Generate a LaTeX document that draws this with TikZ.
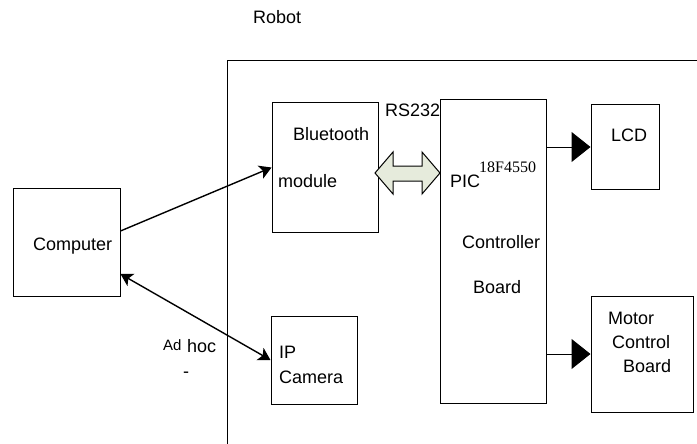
\documentclass[tikz,border=0pt]{standalone}
\usepackage{fontspec}
\setmainfont{Liberation Sans}
\newfontfamily\chipfont{Liberation Serif}
\usetikzlibrary{positioning, arrows.meta}

\definecolor{busfill}{RGB}{230,235,220}

\begin{document}
\begin{tikzpicture}[x=1pt, y=-1pt,
    blk/.style={draw, line width=1pt, inner sep=0pt},
    lbl/.style={anchor=base west, inner sep=0pt, font=\fontsize{18}{20}\selectfont},
    link/.style={line width=1.4pt, -{Stealth[length=12pt, width=14pt, inset=3pt]}},
    twolink/.style={line width=1.4pt, {Stealth[length=12pt, width=14pt, inset=3pt]}-{Stealth[length=12pt, width=14pt, inset=3pt]}},
    feed/.style={line width=1pt, -{Triangle[length=19pt, width=30pt]}}]
        \useasboundingbox (0,0) rectangle (697,444);
        \draw (253,24) node[lbl] (robot) {Robot};
        \draw[line width=1pt] (697,61) -- (227,61) -- (227,444);
        % boxes
        \node[blk, minimum width=107pt, minimum height=108pt] (comp) at (66.5,242) {};
        \node[blk, minimum width=106pt, minimum height=129pt] (bt) at (325,167.5) {};
        \node[blk, minimum width=86pt, minimum height=88pt] (cam) at (314,360) {};
        \node[blk, minimum width=106pt, minimum height=303pt] (pic) at (493,251.5) {};
        \node[blk, minimum width=68pt, minimum height=84pt] (lcd) at (625,147) {};
        \node[blk, minimum width=102pt, minimum height=116pt] (mcb) at (642,354) {};
        % texts
        \draw (33,250) node[lbl] (tcomp) {Computer}
              (293,141) node[lbl] (tbt1) {Bluetooth}
              (278,187) node[lbl] (tbt2) {module}
              (385,117) node[lbl] (trs) {RS232}
              (450,187) node[lbl] (tpic) {PIC}
              (479,172) node[lbl, font=\chipfont\fontsize{16}{18}\selectfont] (tchip) {18F4550}
              (462,248) node[lbl] (tctl1) {Controller}
              (473,293) node[lbl] (tctl2) {Board}
              (611,142) node[lbl] (tlcd) {LCD}
              (608,324) node[lbl] (tmcb1) {Motor}
              (612,348) node[lbl] (tmcb2) {Control}
              (623,372) node[lbl] (tmcb3) {Board}
              (279,358) node[lbl] (tcam1) {IP}
              (279,383) node[lbl] (tcam2) {Camera}
              (163,350) node[lbl, font=\fontsize{15}{17}\selectfont] (tad) {Ad}
              (187,352) node[lbl] (thoc) {hoc}
              (183,377) node[lbl] (tdash) {-};
        % RS232 bus
        \draw[line width=1pt, fill=busfill] (375,173) -- (393,152) -- (393,166) -- (422,166) -- (422,152)
             -- (440,173) -- (422,194) -- (422,181) -- (393,181) -- (393,194) -- cycle;
        % connectors
        \draw[link] ([yshift=11pt]comp.east) -- (bt.west);
        \draw[twolink] ([yshift=-32pt]comp.east) -- (cam.west);
        \draw[feed] (pic.east |- lcd.west) -- (lcd.west);
        \draw[feed] (pic.east |- mcb.west) -- (mcb.west);
\end{tikzpicture}
\end{document}
